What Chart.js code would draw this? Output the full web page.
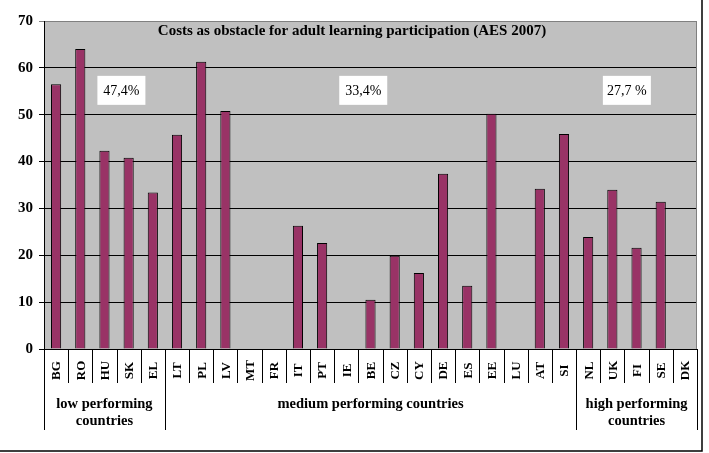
<!DOCTYPE html>
<html>
<head>
<meta charset="utf-8">
<script src="https://cdn.jsdelivr.net/npm/chart.js@4/dist/chart.umd.min.js"></script>
<style>
  html, body { margin: 0; padding: 0; background: #fff; }
  #wrap { width: 709px; height: 453px; position: relative; }
</style>
</head>
<body>
<div id="wrap"><canvas id="costChart" width="709" height="453"></canvas></div>
<script>
// Data
const categories = ['BG', 'RO', 'HU', 'SK', 'EL', 'LT', 'PL', 'LV', 'MT', 'FR', 'IT', 'PT', 'IE', 'BE',
    'CZ', 'CY', 'DE', 'ES', 'EE', 'LU', 'AT', 'SI', 'NL', 'UK', 'FI', 'SE', 'DK'];
const costShare = [56.5, 64.0, 42.3, 40.8, 33.4, 45.7, 61.3, 50.8, null, null, 26.3, 22.6, null, 10.5,
    19.9, 16.2, 37.4, 13.5, 50.2, null, 34.2, 45.9, 23.9, 34.0, 21.6, 31.4, null];
const yTicks = [0, 10, 20, 30, 40, 50, 60, 70];
const groupNames = [['low performing', 'countries'], ['medium performing countries'], ['high performing', 'countries']];
const groupSizes = [5, 17, 5];
const groupAverages = ['47,4%', '33,4%', '27,7 %'];
const chartTitle = 'Costs as obstacle for adult learning participation (AES 2007)';

const COLORS = {
    bar: '#993366',
    plot: '#c0c0c0',
    ink: '#000000'
};
const SERIF = '"Liberation Serif", "DejaVu Serif", serif';

// Where the average boxes sit: [category index, value at box centre]
const averageBoxAt = [[2.7, 55.2], [12.7, 55.2], [23.6, 55.2]];

const backdrop = {
    id: 'backdrop',
    beforeDraw(chart) {
        const { ctx, chartArea: a } = chart;
        ctx.save();
        ctx.fillStyle = '#fff';
        ctx.fillRect(0, 0, chart.width, chart.height);
        ctx.fillStyle = COLORS.plot;
        ctx.fillRect(a.left, a.top, a.right - a.left, a.bottom - a.top);
        ctx.restore();
    }
};

const decorations = {
    id: 'decorations',
    afterDraw(chart) {
        const { ctx, chartArea: a } = chart;
        const xs = chart.scales.x;
        const ys = chart.scales.y;
        const catW = (a.right - a.left) / categories.length;
        ctx.save();

        // plot border (right side)
        ctx.strokeStyle = '#808080';
        ctx.lineWidth = 1;
        ctx.beginPath();
        ctx.moveTo(a.right - 0.5, a.top);
        ctx.lineTo(a.right - 0.5, a.bottom);
        ctx.stroke();

        // title
        ctx.fillStyle = COLORS.ink;
        ctx.font = 'bold 15px ' + SERIF;
        ctx.textAlign = 'center';
        ctx.textBaseline = 'middle';
        ctx.fillText(chartTitle, 352, 31);

        // average boxes
        ctx.font = '14px ' + SERIF;
        groupAverages.forEach((txt, i) => {
            const cx = xs.getPixelForValue(averageBoxAt[i][0]);
            const cy = ys.getPixelForValue(averageBoxAt[i][1]);
            ctx.fillStyle = '#fff';
            ctx.fillRect(cx - 24, cy - 14.5, 48, 29);
            ctx.fillStyle = COLORS.ink;
            ctx.fillText(txt, cx, cy + 1);
        });

        // category labels, rotated
        ctx.font = 'bold 13px ' + SERIF;
        categories.forEach((c, i) => {
            const x = xs.getPixelForValue(i);
            ctx.save();
            ctx.translate(x + 1, 370.5);
            ctx.rotate(-Math.PI / 2);
            ctx.textAlign = 'center';
            ctx.textBaseline = 'middle';
            ctx.fillText(c, 0, 0);
            ctx.restore();
        });

        // separators
        const bounds = [0];
        groupSizes.reduce((s, n) => { bounds.push(s + n); return s + n; }, 0);
        ctx.strokeStyle = COLORS.ink;
        ctx.lineWidth = 1;
        for (let i = 0; i <= categories.length; i++) {
            const x = Math.round(a.left + i * catW) + 0.5;
            const long = bounds.includes(i);
            ctx.beginPath();
            ctx.moveTo(x, a.bottom);
            ctx.lineTo(x, long ? 430 : 383);
            ctx.stroke();
        }

        // group labels
        ctx.font = 'bold 14.5px ' + SERIF;
        ctx.textAlign = 'center';
        ctx.textBaseline = 'middle';
        groupNames.forEach((lines, g) => {
            const cx = a.left + (bounds[g] + bounds[g + 1]) / 2 * catW;
            lines.forEach((ln, k) => ctx.fillText(ln, cx, 404 + k * 17));
        });

        // outer frame
        ctx.lineWidth = 1.5;
        ctx.beginPath();
        ctx.moveTo(702, 0);
        ctx.lineTo(702, 451);
        ctx.lineTo(0, 451);
        ctx.stroke();
        ctx.restore();
    }
};

new Chart(document.getElementById('costChart'), {
    type: 'bar',
    data: {
        labels: categories,
        datasets: [{
            data: costShare,
            backgroundColor: COLORS.bar,
            borderColor: COLORS.ink,
            borderWidth: 1,
            barPercentage: 0.42,
            categoryPercentage: 1
        }]
    },
    options: {
        responsive: false,
        animation: false,
        layout: { padding: { top: 21, right: 12, left: 0, bottom: 0 } },
        plugins: { legend: { display: false }, tooltip: { enabled: false } },
        scales: {
            x: {
                grid: { display: false },
                border: { display: false },
                ticks: { display: false },
                afterFit(s) { s.height = 104; }
            },
            y: {
                min: 0,
                max: 70,
                afterBuildTicks(s) { s.ticks = yTicks.map(v => ({ value: v })); },
                ticks: {
                    color: COLORS.ink,
                    padding: 6,
                    font: { family: SERIF, size: 15, weight: 'bold' }
                },
                grid: {
                    color: ctx => (ctx.tick && ctx.tick.value === 70 ? '#808080' : COLORS.ink),
                    lineWidth: 1,
                    tickLength: 5
                },
                border: { color: COLORS.ink, width: 1 },
                afterFit(s) { s.width = 44; }
            }
        }
    },
    plugins: [backdrop, decorations]
});
</script>
</body>
</html>
